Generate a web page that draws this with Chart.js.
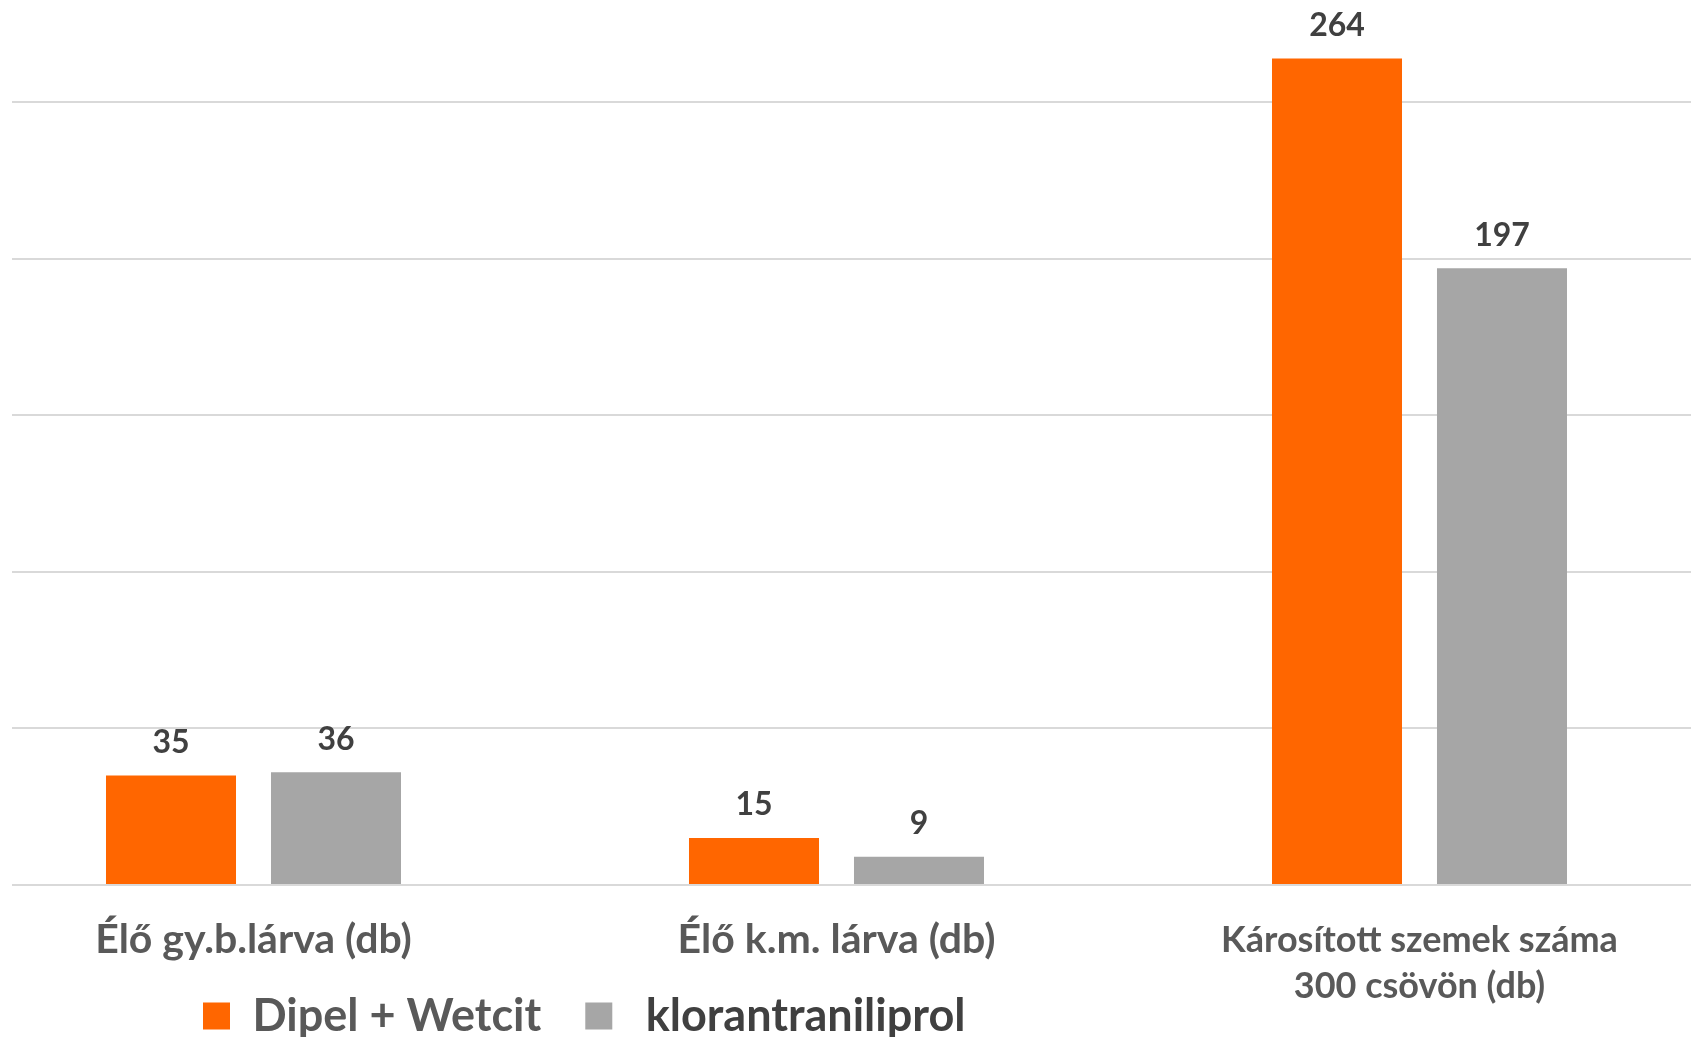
<!DOCTYPE html>
<html lang="hu">
<head>
    <meta charset="UTF-8">
    <title>Lárvák és károsított szemek</title>
    <script src="https://cdn.jsdelivr.net/npm/chart.js"></script>
    <style>
        html, body { margin: 0; padding: 0; background: #fff; overflow: hidden; }
        #wrap { position: absolute; left: 12px; top: 0; width: 1679px; height: 1037px; overflow: hidden; }
        #chart { position: absolute; left: -50px; top: 0; }
    </style>
</head>
<body>
    <div id="wrap">
        <canvas id="chart" width="1749" height="1037"></canvas>
    </div>

    <script>
        const categories = [
            'Élő gy.b.lárva (db)',
            'Élő k.m. lárva (db)',
            ['Károsított szemek száma', '300 csövön (db)']
        ];
        const seriesNames = ['Dipel + Wetcit', 'klorantraniliprol'];
        const dipelValues = [35, 15, 264];
        const kloranValues = [36, 9, 197];
        const gridSteps = [0, 50, 100, 150, 200, 250];

        const textFont = 'Lato, "Open Sans", sans-serif';

        // values over the bars
        const barValueLabels = {
            id: 'barValueLabels',
            afterDatasetsDraw(chart) {
                const ctx = chart.ctx;
                ctx.save();
                ctx.font = 'bold 32px ' + textFont;
                ctx.fillStyle = '#404040';
                ctx.textAlign = 'center';
                ctx.textBaseline = 'middle';
                chart.data.datasets.forEach((ds, i) => {
                    chart.getDatasetMeta(i).data.forEach((bar, j) => {
                        ctx.fillText(ds.data[j], bar.x, bar.y - 33);
                    });
                });
                ctx.restore();
            }
        };

        // put the legend where the original has it (left part, bottom line)
        const legendPlace = {
            id: 'legendPlace',
            afterLayout(chart) {
                const lg = chart.legend;
                const pad = lg.options.labels.padding;
                lg.left = 241 - pad;
                lg.right = chart.width;
                lg.top = 1016 - pad - 22.5;
                lg.bottom = chart.height;
            }
        };

        new Chart(document.getElementById('chart'), {
            type: 'bar',
            data: {
                labels: categories,
                datasets: [{
                    label: seriesNames[0],
                    data: dipelValues,
                    backgroundColor: '#FF6600',
                    borderWidth: 0
                }, {
                    label: seriesNames[1],
                    data: kloranValues,
                    backgroundColor: '#A6A6A6',
                    borderWidth: 0
                }]
            },
            options: {
                responsive: false,
                animation: false,
                layout: { padding: 0 },
                categoryPercentage: 0.566,
                barPercentage: 0.788,
                scales: {
                    x: {
                        grid: { display: false },
                        border: { display: false },
                        ticks: {
                            color: '#595959',
                            padding: 24,
                            maxRotation: 0,
                            autoSkip: false,
                            font: (c) => ({
                                family: textFont,
                                size: c.index === 2 ? 36 : 41,
                                weight: 'bold',
                                lineHeight: '46px'
                            })
                        },
                        afterFit: (s) => { s.height = 128; }
                    },
                    y: {
                        min: 0,
                        max: 282.7,
                        afterFit: (s) => { s.width = 0; },
                        border: { display: false },
                        grid: {
                            drawTicks: false,
                            lineWidth: 2,
                            color: (c) => gridSteps.includes(c.tick.value) ? '#D9D9D9' : 'rgba(0,0,0,0)'
                        },
                        ticks: { display: false, stepSize: 50 }
                    }
                },
                plugins: {
                    tooltip: { enabled: false },
                    legend: {
                        position: 'bottom',
                        align: 'start',
                        maxHeight: 24,
                        labels: {
                            boxWidth: 27,
                            boxHeight: 27,
                            padding: 44,
                            font: { family: textFont, size: 45, weight: 'bold' },
                            generateLabels: (chart) => chart.data.datasets.map((ds, i) => ({
                                text: i === 1 ? ' ' + ds.label : ds.label,
                                fillStyle: ds.backgroundColor,
                                strokeStyle: ds.backgroundColor,
                                lineWidth: 0,
                                fontColor: i === 1 ? '#404040' : '#595959',
                                datasetIndex: i
                            }))
                        }
                    }
                }
            },
            plugins: [barValueLabels, legendPlace]
        });
    </script>
</body>
</html>
